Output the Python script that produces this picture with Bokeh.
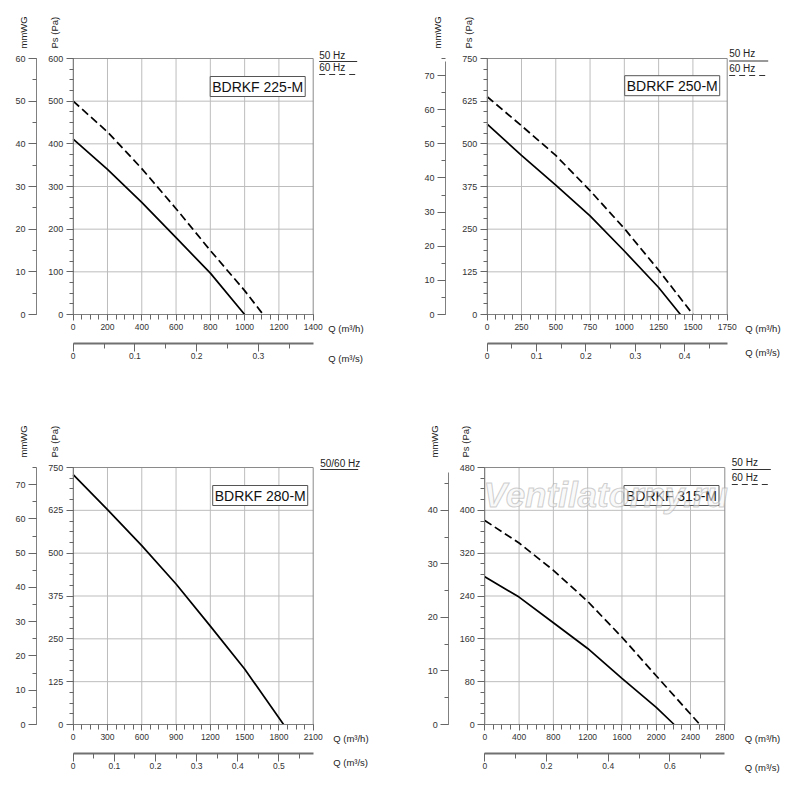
import numpy as np
from bokeh.plotting import figure
from bokeh.models import Range1d, LinearAxis, FixedTicker, Label
from bokeh.layouts import gridplot
from bokeh.embed import file_html
from bokeh.resources import INLINE

FONT = "Liberation Sans"

# ---------------- data ----------------
# BDRKF 225-M
Q225_50 = [0, 200, 400, 600, 800, 1000]
PA225_50 = [411, 340, 263, 180, 97, 0]
Q225_60 = [0, 200, 400, 600, 800, 1000, 1108]
PA225_60 = [500, 428, 342, 248, 150, 56, 0]
# BDRKF 250-M
Q250_50 = [0, 250, 500, 750, 1000, 1250, 1409]
PA250_50 = [558, 466, 379, 289, 186, 79, 0]
Q250_60 = [0, 250, 500, 750, 1000, 1250, 1501]
PA250_60 = [638, 553, 466, 363, 252, 130, 0]
# BDRKF 280-M (50/60 Hz)
Q280 = [0, 300, 600, 900, 1200, 1500, 1841]
PA280 = [729, 627, 522, 410, 287, 162, 0]
# BDRKF 315-M
Q315_50 = [0, 400, 800, 1200, 1600, 2000, 2209]
PA315_50 = [276, 238, 190, 142, 86, 32, 0]
Q315_60 = [0, 400, 800, 1200, 1600, 2000, 2509]
PA315_60 = [381, 339, 288, 230, 163, 91, 0]

# tick labels of the m3/s axes
QS225_TICKS = ["0", "0.1", "0.2", "0.3"]
QS250_TICKS = ["0", "0.1", "0.2", "0.3", "0.4"]
QS280_TICKS = ["0", "0.1", "0.2", "0.3", "0.4", "0.5"]
QS315_TICKS = ["0", "0.2", "0.4", "0.6"]


def rng(stop, step):
    return [float(v) for v in np.arange(0, stop + 1e-9, step)]


FW = 240
PANELS = [
    dict(title="BDRKF 225-M", qmax=1400, qstep=200, qminor=50, pmax=600, pstep=100, pminor=25,
         mmmax=60, mmbounds=(0, 60), mm_px=-36.7, qs_labels=QS225_TICKS, qs_minor=0.05,
         series=[(Q225_50, PA225_50, None), (Q225_60, PA225_60, "8 4")],
         legend=[("50 Hz", None, 259, 253), ("60 Hz", "6 4", 247, 240)], leg_x=(6, 44),
         W=413, H=417, bl=72.7, bt=58, fh=256, qlab=15, qs_py=-44, title_pos=(184.5, 228), wm=False),
    dict(title="BDRKF 250-M", qmax=1750, qstep=250, qminor=62.5, pmax=750, pstep=125, pminor=31.25,
         mmmax=75, mmbounds=(0, 74), mm_px=-41.7, qs_labels=QS250_TICKS, qs_minor=0.05,
         series=[(Q250_50, PA250_50, None), (Q250_60, PA250_60, "8 4")],
         legend=[("50 Hz", None, 261, 253.5), ("60 Hz", "6 4", 246, 239)], leg_x=(2, 41),
         W=377, H=417, bl=73.7, bt=58, fh=256, qlab=18, qs_py=-38, title_pos=(185, 228.8), wm=False),
    dict(title="BDRKF 280-M", qmax=2100, qstep=300, qminor=75, pmax=750, pstep=125, pminor=31.25,
         mmmax=75, mmbounds=(0, 75), mm_px=-36.7, qs_labels=QS280_TICKS, qs_minor=0.05,
         series=[(Q280, PA280, None)],
         legend=[("50/60 Hz", None, 261, 255)], leg_x=(7, 45),
         W=413, H=375, bl=72.7, bt=50, fh=257, qlab=20, qs_py=-38, title_pos=(187, 229), wm=False),
    dict(title="BDRKF 315-M", qmax=2800, qstep=400, qminor=100, pmax=480, pstep=80, pminor=20,
         mmmax=48, mmbounds=(0, 47), mm_px=-36, qs_labels=QS315_TICKS, qs_minor=0.1,
         series=[(Q315_50, PA315_50, None), (Q315_60, PA315_60, "8 4")],
         legend=[("50 Hz", None, 262, 255), ("60 Hz", "6 4", 247, 240)], leg_x=(7, 46),
         W=377, H=375, bl=71.3, bt=50, fh=257, qlab=20, qs_py=-43, title_pos=(186.7, 229), wm=True),
]


def style_axis(ax, tick_out, minor_out, standoff, fs, line_color="#808080", line_width=1):
    ax.major_tick_out = tick_out
    ax.major_tick_in = 0
    ax.minor_tick_out = minor_out
    ax.minor_tick_in = 0
    ax.major_label_standoff = standoff
    ax.major_label_text_font = FONT
    ax.major_label_text_font_size = fs
    ax.major_label_text_color = "#333333"
    ax.axis_line_color = line_color
    ax.axis_line_width = line_width
    ax.major_tick_line_color = "#666666"
    ax.minor_tick_line_color = "#666666"


def make_panel(c):
    FH = c["fh"]
    W, H, bl, bt = c["W"], c["H"], c["bl"], c["bt"]
    qmax, pmax = c["qmax"], c["pmax"]
    k = qmax / FW          # data units per pixel, x
    m = pmax / FH          # data units per pixel, y
    bb = H - bt - FH
    xr = Range1d(-bl * k, (W - bl) * k)
    yr = Range1d(-bb * m, (bt + FH) * m)
    p = figure(width=W, height=H, x_range=xr, y_range=yr,
               x_axis_type=None, y_axis_type=None, min_border=0,
               output_backend="svg", toolbar_location=None, tools="")
    p.outline_line_color = None
    p.background_fill_color = "white"
    p.border_fill_color = "white"
    p.xgrid.visible = False
    p.ygrid.visible = False

    def X(px):
        return px * k

    def Y(py):
        return py * m

    mmf = c["mmmax"] / pmax
    p.extra_y_ranges = {"mm": Range1d(yr.start * mmf, yr.end * mmf)}
    p.extra_x_ranges = {"qs": Range1d(xr.start / 3600.0, xr.end / 3600.0)}

    qticks = rng(qmax, c["qstep"])
    pticks = rng(pmax, c["pstep"])

    # grid lines at the interior major ticks
    gx = [t for t in qticks if 0 < t < qmax]
    gy = [t for t in pticks if 0 < t < pmax]
    p.segment(x0=gx, y0=[0] * len(gx), x1=gx, y1=[pmax] * len(gx), line_color="#bdbdbd", line_width=1)
    p.segment(x0=[0] * len(gy), y0=gy, x1=[qmax] * len(gy), y1=gy, line_color="#bdbdbd", line_width=1)
    # plot area border
    p.quad(left=[0], right=[qmax], bottom=[0], top=[pmax], fill_color=None,
           line_color="#8a8a8a", line_width=1)

    # Pa axis
    ya = LinearAxis(fixed_location=0, bounds=(0, pmax),
                    ticker=FixedTicker(ticks=pticks, minor_ticks=rng(pmax, c["pminor"])))
    style_axis(ya, 7, 4, 3, "9px")
    p.add_layout(ya, "left")
    # mmWG axis
    mm = LinearAxis(y_range_name="mm", fixed_location=X(c["mm_px"]), bounds=c["mmbounds"],
                    ticker=FixedTicker(ticks=rng(c["mmmax"], 10), minor_ticks=rng(c["mmmax"], 5)))
    style_axis(mm, 8, 4, 3, "9px")
    p.add_layout(mm, "left")
    # Q (m3/h) axis
    xa = LinearAxis(fixed_location=0, bounds=(0, qmax),
                    ticker=FixedTicker(ticks=qticks, minor_ticks=rng(qmax, c["qminor"])))
    style_axis(xa, 6, 5, 3, "8.5px")
    p.add_layout(xa, "below")
    # Q (m3/s) axis
    labels = c["qs_labels"]
    step = float(labels[1])
    qs_max = qmax / 3600.0
    qs_ticks = [round(i * step, 3) for i in range(len(labels))]
    qs = LinearAxis(x_range_name="qs", fixed_location=Y(-28.7), bounds=(0, qs_max),
                    ticker=FixedTicker(ticks=qs_ticks,
                                       minor_ticks=[round(v, 3) for v in np.arange(0, qs_max, c["qs_minor"])]),
                    major_label_overrides={t: s for t, s in zip(qs_ticks, labels)})
    style_axis(qs, 8, 5, 2, "8.5px", line_color="#707070", line_width=2)
    p.add_layout(qs, "below")

    # curves
    for q, pa, dash in c["series"]:
        if dash:
            p.line(q, pa, line_color="black", line_width=1.7, line_dash=dash)
        else:
            p.line(q, pa, line_color="black", line_width=1.7)

    # texts
    def lab(px, py, text, **kw):
        d = dict(text_font=FONT, text_font_size="9.5px", text_color="#222222")
        d.update(kw)
        p.add_layout(Label(x=X(px), y=Y(py), text=text, **d))

    lab(-50, FH + 10, "mmWG", angle=np.pi / 2, text_align="left", text_baseline="middle")
    lab(-19, FH + 10, "Ps (Pa)", angle=np.pi / 2, text_align="left", text_baseline="middle")
    lab(FW + c["qlab"], -14, "Q (m³/h)", text_align="left", text_baseline="middle", text_font_size="9.5px")
    lab(FW + c["qlab"], c["qs_py"], "Q (m³/s)", text_align="left", text_baseline="middle", text_font_size="9.5px")

    tx, ty = c["title_pos"]
    lab(tx, ty, c["title"], text_align="center", text_baseline="middle", text_font_size="14px",
        text_color="#111111", border_line_color="#555555", background_fill_color="white", padding=2)
    if c["wm"]:
        lab(121, 230, "Ventilatorny.ru", text_align="center", text_baseline="middle",
            text_font_size="35px", text_font_style="bold italic", text_color="#f4f4f4",
            text_alpha=0.55, text_outline_color="#a8a8a8")

    lx0, lx1 = c["leg_x"]
    for text, dash, tpy, lpy in c["legend"]:
        lab(FW + lx0, tpy, text, text_align="left", text_baseline="middle", text_font_size="10px")
        kw = dict(line_dash=dash) if dash else {}
        p.line([X(FW + lx0), X(FW + lx1)], [Y(lpy), Y(lpy)], line_color="#333333", line_width=1, **kw)
    return p


figs = [make_panel(c) for c in PANELS]
grid = gridplot([[figs[0], figs[1]], [figs[2], figs[3]]], toolbar_location=None)

open("out.html", "w").write(file_html(grid, INLINE))
